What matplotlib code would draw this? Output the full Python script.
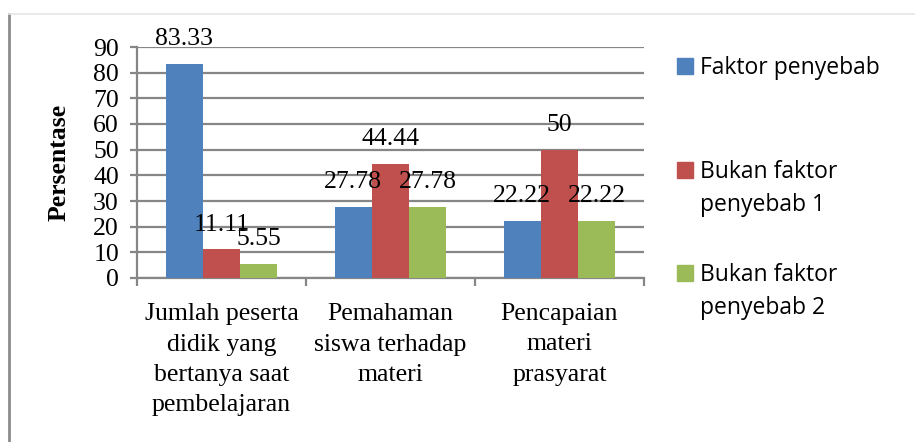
import matplotlib.pyplot as plt
import matplotlib.patches as mpatches
import numpy as np

categories = ["Jumlah peserta\ndidik yang\nbertanya saat\npembelajaran",
              "Pemahaman\nsiswa terhadap\nmateri",
              "Pencapaian\nmateri\nprasyarat"]
series_names = ["Faktor penyebab", "Bukan faktor\npenyebab 1", "Bukan faktor\npenyebab 2"]
faktor = [83.33, 27.78, 22.22]
bukan1 = [11.11, 44.44, 50]
bukan2 = [5.55, 27.78, 22.22]
labels_fmt = ["83.33", "11.11", "5.55", "27.78", "44.44", "27.78", "22.22", "50", "22.22"]

colors = ["#4F81BD", "#C0504D", "#9BBB59"]
grid_c = "#868686"
serif = "Liberation Serif"

W, H = 915, 442
fig = plt.figure(figsize=(W / 100, H / 100), dpi=100)
ax = fig.add_axes([137 / W, 1 - 278 / H, (644 - 137) / W, (278 - 47) / H])

x = np.arange(len(categories))
w = 0.22
all_vals = [faktor, bukan1, bukan2]
bars = []
for i, vals in enumerate(all_vals):
    b = ax.bar(x + (i - 1) * w, vals, w, color=colors[i], label=series_names[i], zorder=3)
    bars.append(b)

for i, b in enumerate(bars):
    for j, rect in enumerate(b):
        txt = labels_fmt[j * 3 + i]
        ax.annotate(txt, (rect.get_x() + rect.get_width() / 2, rect.get_height()),
                    xytext=(0, 10), textcoords="offset points", ha="center", va="bottom",
                    fontsize=18.5, family=serif, zorder=4)

ax.set_xlim(-0.5, 2.5)
ax.set_ylim(0, 90)
ax.set_yticks(range(0, 91, 10))
ax.yaxis.grid(True, color=grid_c, linewidth=1.6, zorder=0)
ax.set_axisbelow(True)
for s in ["top", "right"]:
    ax.spines[s].set_visible(False)
for s in ["left", "bottom"]:
    ax.spines[s].set_color(grid_c)
    ax.spines[s].set_linewidth(1.6)

ax.set_xticks([-0.5, 0.5, 1.5, 2.5])
ax.set_xticklabels([])
ax.set_xticks(x, minor=True)
ax.set_xticklabels(categories, minor=True, fontsize=18.5, family=serif, linespacing=1.5)
ax.tick_params(axis="x", which="major", length=6, width=1.6, color=grid_c, direction="out")
ax.tick_params(axis="x", which="minor", length=0, pad=18)
ax.tick_params(axis="y", length=5, width=1.6, color=grid_c, labelsize=18.5, pad=8)
for t in ax.get_yticklabels():
    t.set_family(serif)

ax.set_ylabel("Persentase", fontsize=18.5, family=serif, fontweight="bold", labelpad=16)

# legend, square lined up with the first line of each entry (Excel style)
leg_y = [66, 170, 273]
line_gap = 33
for i, name in enumerate(series_names):
    fig.patches.append(mpatches.Rectangle((677 / W, 1 - (leg_y[i] + 8) / H), 16 / W, 16 / H,
                                          transform=fig.transFigure, color=colors[i]))
    for k, line in enumerate(name.split("\n")):
        fig.text(700 / W, 1 - (leg_y[i] + 8 + k * line_gap) / H, line, ha="left", va="baseline",
                 family="Open Sans", fontsize=16.5)

# chart border
fig.add_artist(plt.Line2D([8.5 / W, 8.5 / W], [0, 1 - 14 / H], transform=fig.transFigure,
                          color="#8C8C8C", linewidth=2))
fig.add_artist(plt.Line2D([8.5 / W, 1], [1 - 14 / H, 1 - 14 / H], transform=fig.transFigure,
                          color="#E6E6E6", linewidth=1.2))

fig.savefig("out.png", dpi=100)
